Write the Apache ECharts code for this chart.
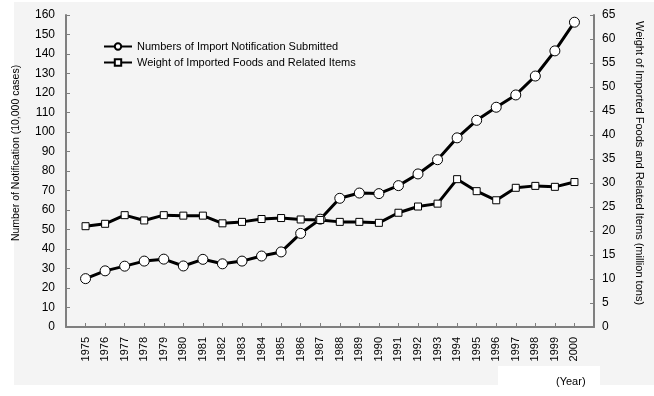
<!DOCTYPE html>
<html>
<head>
<meta charset="utf-8">
<script src="https://cdn.jsdelivr.net/npm/echarts@6/dist/echarts.min.js"></script>
<style>
  html, body { margin: 0; padding: 0; background: #fff; }
  #chart { width: 654px; height: 396px; }
</style>
</head>
<body>
<div id="chart"></div>
<script>
// years on the x axis
var years = [1975, 1976, 1977, 1978, 1979, 1980, 1981, 1982, 1983, 1984, 1985, 1986, 1987,
  1988, 1989, 1990, 1991, 1992, 1993, 1994, 1995, 1996, 1997, 1998, 1999, 2000];
// Numbers of Import Notification Submitted (10,000 cases), left axis
var notifications = [24.8, 28.8, 31.2, 33.8, 34.8, 31.3, 34.7, 32.4, 33.8, 36.4, 38.5, 48.0, 55.3,
  66.0, 68.7, 68.4, 72.5, 78.5, 85.8, 97.0, 106.0, 112.7, 119.0, 128.7, 141.6, 156.3];
// Weight of Imported Foods and Related Items (million tons), right axis
var weights = [21.0, 21.5, 23.3, 22.2, 23.3, 23.2, 23.2, 21.6, 21.9, 22.5, 22.7, 22.4, 22.3,
  21.9, 21.9, 21.7, 23.8, 25.1, 25.7, 30.8, 28.3, 26.4, 29.0, 29.4, 29.2, 30.2];

var font = 'Arial, "Liberation Sans", sans-serif';
var axisGrey = '#7f7f7f';

var chart = echarts.init(document.getElementById('chart'));

var option = {
  animation: false,
  textStyle: {fontFamily: font},
  graphic: [
    {type: 'rect', z: -10, shape: {x: 14, y: 2, width: 640, height: 383}, style: {fill: '#f4f4f4'}},
    {type: 'rect', z: -9, shape: {x: 498, y: 366, width: 102, height: 19}, style: {fill: '#ffffff'}},
    {type: 'text', left: 556, top: 376, style: {text: '(Year)', font: '11px ' + font, fill: '#000'}}
  ],
  grid: {left: 66, right: 60, top: 15, bottom: 69},
  legend: {
    orient: 'vertical',
    left: 98,
    top: 36,
    itemWidth: 28,
    itemHeight: 8,
    itemGap: 5,
    textStyle: {fontSize: 11, color: '#000', fontFamily: font},
    data: ['Numbers of Import Notification Submitted', 'Weight of Imported Foods and Related Items']
  },
  xAxis: {
    type: 'value',
    min: 1974,
    max: 2001,
    interval: 1,
    axisLine: {lineStyle: {color: axisGrey, width: 2}},
    axisTick: {inside: true, length: 4, lineStyle: {color: axisGrey}},
    splitLine: {show: false},
    axisLabel: {
      rotate: 90,
      fontSize: 11,
      color: '#000',
      margin: 10,
      formatter: function (v) {
        return (v < years[0] || v > years[years.length - 1]) ? '' : String(v);
      }
    }
  },
  yAxis: [
    {
      type: 'value',
      min: 0,
      max: 160,
      interval: 10,
      name: 'Number of Notification (10,000 cases)',
      nameLocation: 'middle',
      nameGap: 44,
      nameTextStyle: {fontSize: 10.5, color: '#000', padding: [0, 0, 0, 36]},
      axisLine: {show: true, lineStyle: {color: axisGrey, width: 2}},
      axisTick: {show: true, inside: true, length: 4, lineStyle: {color: axisGrey}},
      splitLine: {show: false},
      axisLabel: {fontSize: 12, color: '#000', margin: 11}
    },
    {
      type: 'value',
      min: 0,
      max: 65,
      interval: 5,
      name: 'Weight of Imported Foods and Related Items (million tons)',
      nameLocation: 'middle',
      nameRotate: -90,
      nameGap: 40,
      nameTextStyle: {fontSize: 11, color: '#000', padding: [0, 16, 0, 0]},
      axisLine: {show: true, lineStyle: {color: axisGrey, width: 2}},
      axisTick: {show: true, inside: true, length: 4, lineStyle: {color: axisGrey}},
      splitLine: {show: false},
      axisLabel: {fontSize: 12, color: '#000', margin: 8}
    }
  ],
  series: [
    {
      name: 'Numbers of Import Notification Submitted',
      type: 'line',
      yAxisIndex: 0,
      symbol: 'circle',
      symbolSize: 10,
      showAllSymbol: true,
      lineStyle: {color: '#000', width: 3},
      itemStyle: {color: '#fff', borderColor: '#000', borderWidth: 1},
      data: years.map(function (y, i) { return [y, notifications[i]]; })
    },
    {
      name: 'Weight of Imported Foods and Related Items',
      type: 'line',
      yAxisIndex: 1,
      symbol: 'rect',
      symbolSize: 7,
      showAllSymbol: true,
      lineStyle: {color: '#000', width: 3},
      itemStyle: {color: '#fff', borderColor: '#000', borderWidth: 1},
      data: years.map(function (y, i) { return [y, weights[i]]; })
    }
  ]
};

chart.setOption(option);
</script>
</body>
</html>
